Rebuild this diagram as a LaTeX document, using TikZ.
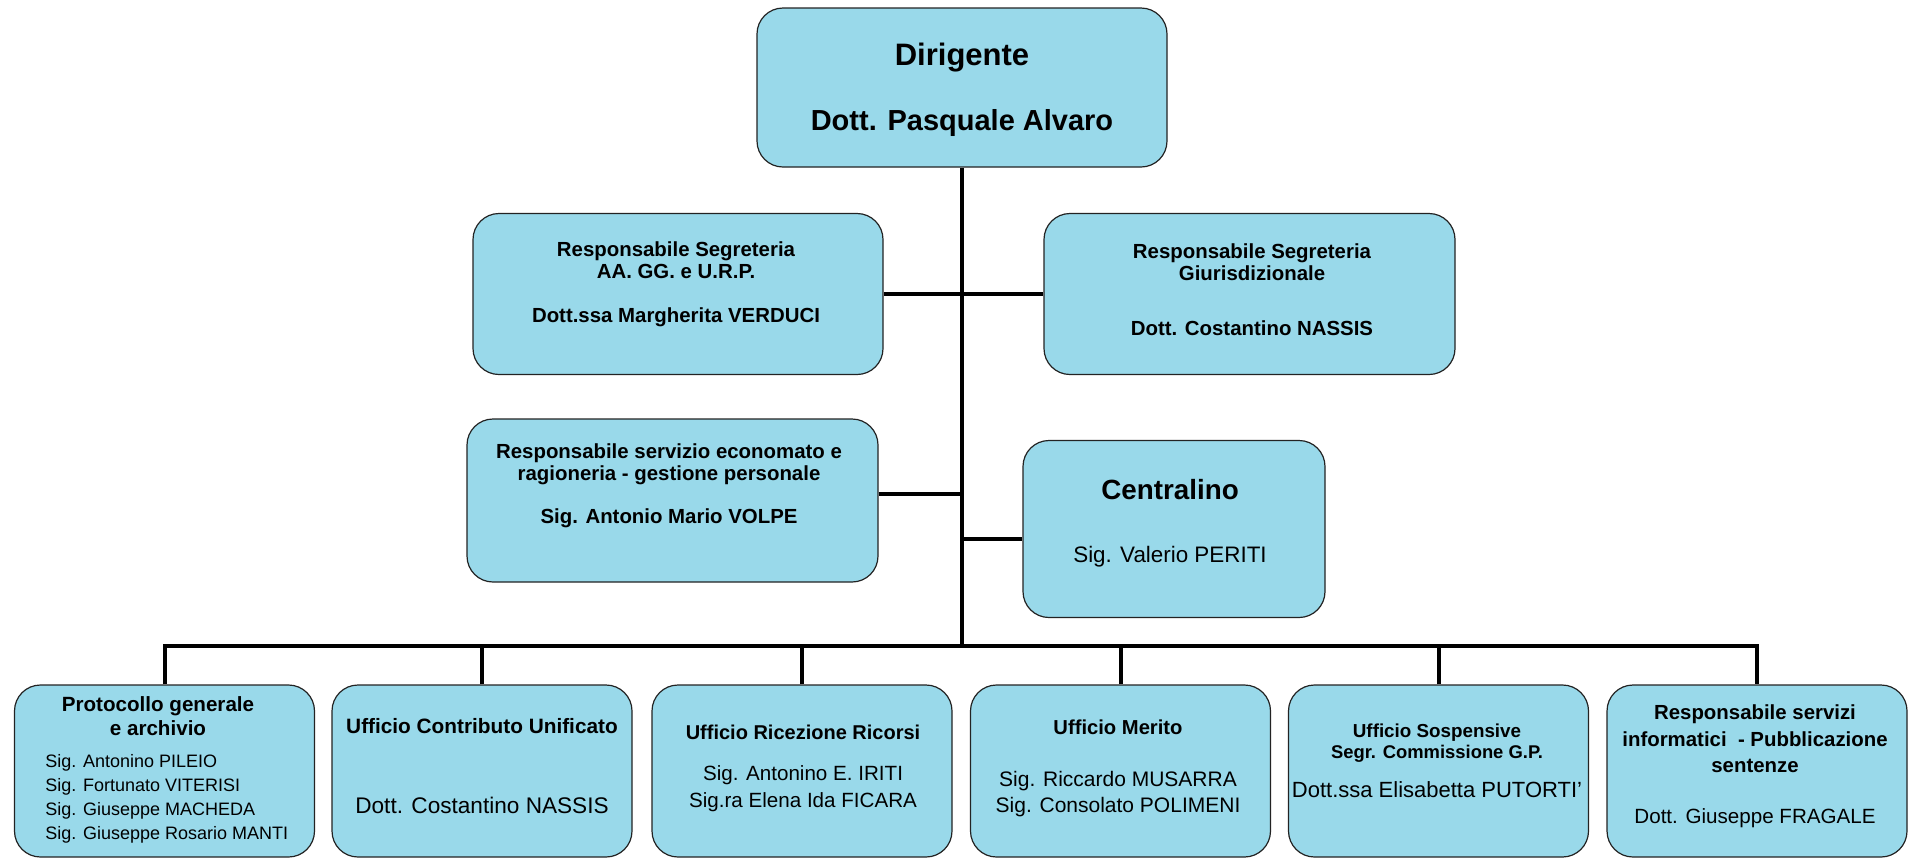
\documentclass[tikz,border=0pt]{standalone}
\usepackage{fontspec}
\setmainfont{Liberation Sans}
\usepackage{tikz}
\definecolor{boxAzzurro}{RGB}{153, 217, 234}
\definecolor{bordoScuro}{RGB}{35, 35, 35}

\begin{document}
\begin{tikzpicture}[x=0.5pt, y=-0.5pt,
    ufficio/.style={draw=bordoScuro, line width=0.6pt, fill=boxAzzurro, rounded corners=13pt, inner sep=0pt},
    testo/.style={align=center, inner sep=0pt},
    linea/.style={line width=2pt}]
    \useasboundingbox (0,0) rectangle (1914,858);
    \node[ufficio, minimum width=205pt, minimum height=79.5pt] (dir) at (962,87.5) {};
    \node[ufficio, minimum width=205pt, minimum height=80.5pt] (segA) at (678,294) {};
    \node[ufficio, minimum width=205.5pt, minimum height=80.5pt] (segG) at (1249.5,294) {};
    \node[ufficio, minimum width=205.5pt, minimum height=81.5pt] (eco) at (672.5,500.5) {};
    \node[ufficio, minimum width=151pt, minimum height=88.5pt] (cen) at (1174,529) {};
    \foreach \n/\x in {1/164.5, 2/482, 3/802, 4/1120.5, 5/1438.5, 6/1757}
        \node[ufficio, minimum width=150pt, minimum height=86pt] (u\n) at (\x,771) {};

    \coordinate (bus) at (962,646);
    \coordinate (ecoJ) at (962,494);
    \coordinate (cenJ) at (962,539);
    \draw[linea] (dir.south) -- (dir.south |- bus);
    \draw[linea] (segA.east) -- (segG.west);
    \draw[linea] (eco.east |- ecoJ) -- (ecoJ);
    \draw[linea] (cenJ) -- (cenJ -| cen.west);
    \draw[linea] (u1.north) |- (bus) -| (u6.north);
    \foreach \n in {2,...,5}
        \draw[linea] (u\n.north) -- (u\n.north |- bus);

    \node[testo, font=\bfseries\fontsize{14.5}{17}\selectfont] (dirT) at (962,90)
        {{\fontsize{15.5}{17}\selectfont Dirigente}\\[15.5pt]Dott. Pasquale Alvaro};
    \node[testo, font=\bfseries\fontsize{10.2}{11}\selectfont] (segAT) at (676,284)
        {Responsabile Segreteria\\AA. GG. e U.R.P.\\[11pt]Dott.ssa Margherita VERDUCI};
    \node[testo, font=\bfseries\fontsize{10.2}{10.8}\selectfont] (segGT) at (1252,289.5)
        {Responsabile Segreteria\\Giurisdizionale\\[16.7pt]Dott. Costantino NASSIS};
    \node[testo, font=\bfseries\fontsize{10.2}{11}\selectfont] (ecoT) at (669,486)
        {Responsabile servizio economato e\\ragioneria - gestione personale\\[10.5pt]Sig. Antonio Mario VOLPE};
    \node[testo, font=\fontsize{11.2}{14}\selectfont] (cenT) at (1170,523)
        {{\bfseries\fontsize{13.9}{14}\selectfont Centralino}\\[17.5pt]Sig. Valerio PERITI};

    \node[testo, font=\bfseries\fontsize{10.3}{12}\selectfont] (u1T) at (158,716)
        {Protocollo generale\\e archivio};
    \node[testo, align=left, anchor=west, font=\fontsize{9}{12}\selectfont] (u1N) at (45,799)
        {Sig. Antonino PILEIO\\Sig. Fortunato VITERISI\\Sig. Giuseppe MACHEDA\\Sig. Giuseppe Rosario MANTI};
    \node[testo, font=\fontsize{11.3}{12}\selectfont] (u2T) at (482,766)
        {{\bfseries\fontsize{10.4}{12}\selectfont Ufficio Contributo Unificato}\\[28pt]Dott. Costantino NASSIS};
    \node[testo, font=\fontsize{10.3}{13.5}\selectfont] (u3T) at (803,768)
        {{\bfseries\fontsize{10}{13.5}\selectfont Ufficio Ricezione Ricorsi}\\[7pt]Sig. Antonino E. IRITI\\Sig.ra Elena Ida FICARA};
    \node[testo, font=\fontsize{10.5}{13}\selectfont] (u4T) at (1118,768)
        {{\bfseries\fontsize{10.1}{13}\selectfont Ufficio Merito}\\[13pt]Sig. Riccardo MUSARRA\\Sig. Consolato POLIMENI};
    \node[testo, font=\fontsize{11}{10.5}\selectfont] (u5T) at (1437,761)
        {{\bfseries\fontsize{9.4}{10.5}\selectfont Ufficio Sospensive}\\{\bfseries\fontsize{9.2}{10.5}\selectfont Segr. Commissione G.P.}\\[9pt]Dott.ssa Elisabetta PUTORTI'};
    \node[testo, font=\bfseries\fontsize{10.2}{13.25}\selectfont] (u6T) at (1755,766.5)
        {Responsabile servizi\\informatici\ \ - Pubblicazione\\sentenze\\[12.25pt]{\mdseries\fontsize{10.3}{13.25}\selectfont Dott. Giuseppe FRAGALE}};
\end{tikzpicture}
\end{document}
